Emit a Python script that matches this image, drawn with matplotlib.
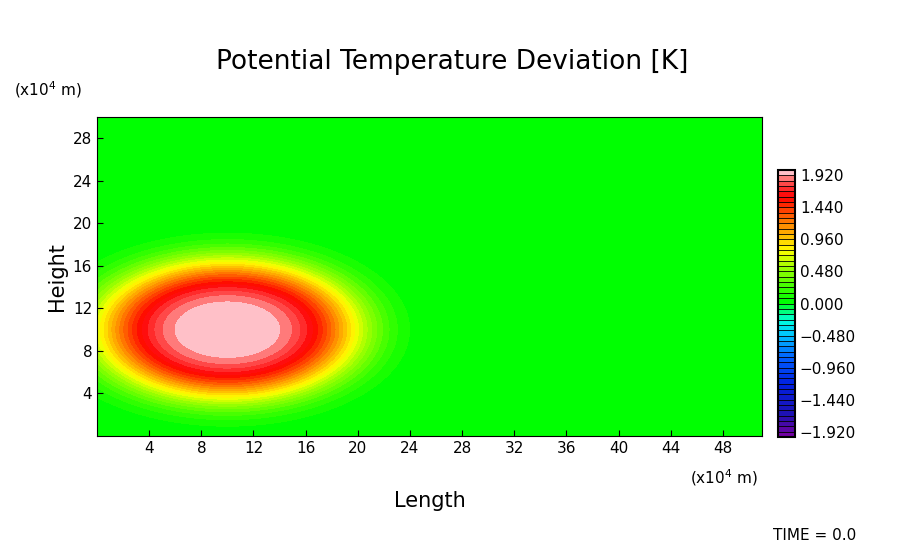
import numpy as np
import matplotlib
matplotlib.use("Agg")
import matplotlib.pyplot as plt
from matplotlib.colors import ListedColormap, BoundaryNorm, LinearSegmentedColormap
import matplotlib.cm as cm

x_range = [0, 51]
z_range = [0, 30]
center = [10, 10]
amp = 2.0
half_width = [10.0, 6.5]
levels = np.round(np.arange(-2.0, 2.0001, 0.08), 3)
xticks = [4, 8, 12, 16, 20, 24, 28, 32, 36, 40, 44, 48]
yticks = [4, 8, 12, 16, 20, 24, 28]
cb_ticks = [-1.92, -1.44, -0.96, -0.48, 0.0, 0.48, 0.96, 1.44, 1.92]

x = np.linspace(*x_range, 400)
z = np.linspace(*z_range, 300)
X, Z = np.meshgrid(x, z)
R = np.sqrt(((X - center[0]) / half_width[0])**2 + ((Z - center[1]) / half_width[1])**2)
T = amp * np.exp(-R**3.5)
T = np.clip(T, 0.01, 1.999)

anchors = [(0.0, '#7a00a0'), (0.08, '#2010b0'), (0.2, '#0020e0'), (0.3, '#0060ff'),
           (0.38, '#00c0ff'), (0.44, '#00ffe0'), (0.49, '#00ff40'), (0.51, '#00ff00'),
           (0.64, '#a0ff00'), (0.7, '#ffff00'), (0.78, '#ffa000'), (0.84, '#ff5000'),
           (0.9, '#ff0000'), (0.95, '#ff4040'), (1.0, '#ffc0c0')]
base = LinearSegmentedColormap.from_list('g', anchors)
n = len(levels) - 1
cols = [base((levels[i] + levels[i+1]) / 2 / 4 + 0.5) for i in range(n)]
cols[-1] = '#ffc0c8'
cmap = ListedColormap(cols)
norm = BoundaryNorm(levels, n)

fig = plt.figure(figsize=(9.04, 5.44), dpi=100)
ax = fig.add_axes([97/904, 1-436/544, 665/904, 319/544])
ax.contourf(X, Z, T, levels=levels, cmap=cmap, norm=norm)
ax.set_xlim(x_range); ax.set_ylim(z_range)
ax.set_xticks(xticks); ax.set_yticks(yticks)
ax.tick_params(direction='in', length=4, labelsize=11)
ax.set_xlabel('Length', fontsize=15, labelpad=25)
ax.set_ylabel('Height', fontsize=15)
fig.text(0.5, 1-62/544, 'Potential Temperature Deviation [K]', ha='center', va='center', fontsize=19)
fig.text(14/904, 1-90/544, '(x10$^4$ m)', fontsize=11, va='center')
fig.text(690/904, 1-478/544, '(x10$^4$ m)', fontsize=11, va='center')
fig.text(773/904, 1-535/544, 'TIME = 0.0', fontsize=11, va='center')

cax = fig.add_axes([778/904, 1-437/544, 17/904, 267/544])
sm = cm.ScalarMappable(norm=norm, cmap=cmap)
cb = fig.colorbar(sm, cax=cax, ticks=cb_ticks, drawedges=True)
cb.dividers.set_color('black'); cb.dividers.set_linewidth(0.6)
cb.ax.set_yticklabels([f'{t:.3f}'.replace('-', '\u2212') for t in cb_ticks])
cb.ax.tick_params(length=0, labelsize=11)
cb.ax.minorticks_off()
cb.outline.set_linewidth(1.5)
fig.savefig('out.png', dpi=100)
